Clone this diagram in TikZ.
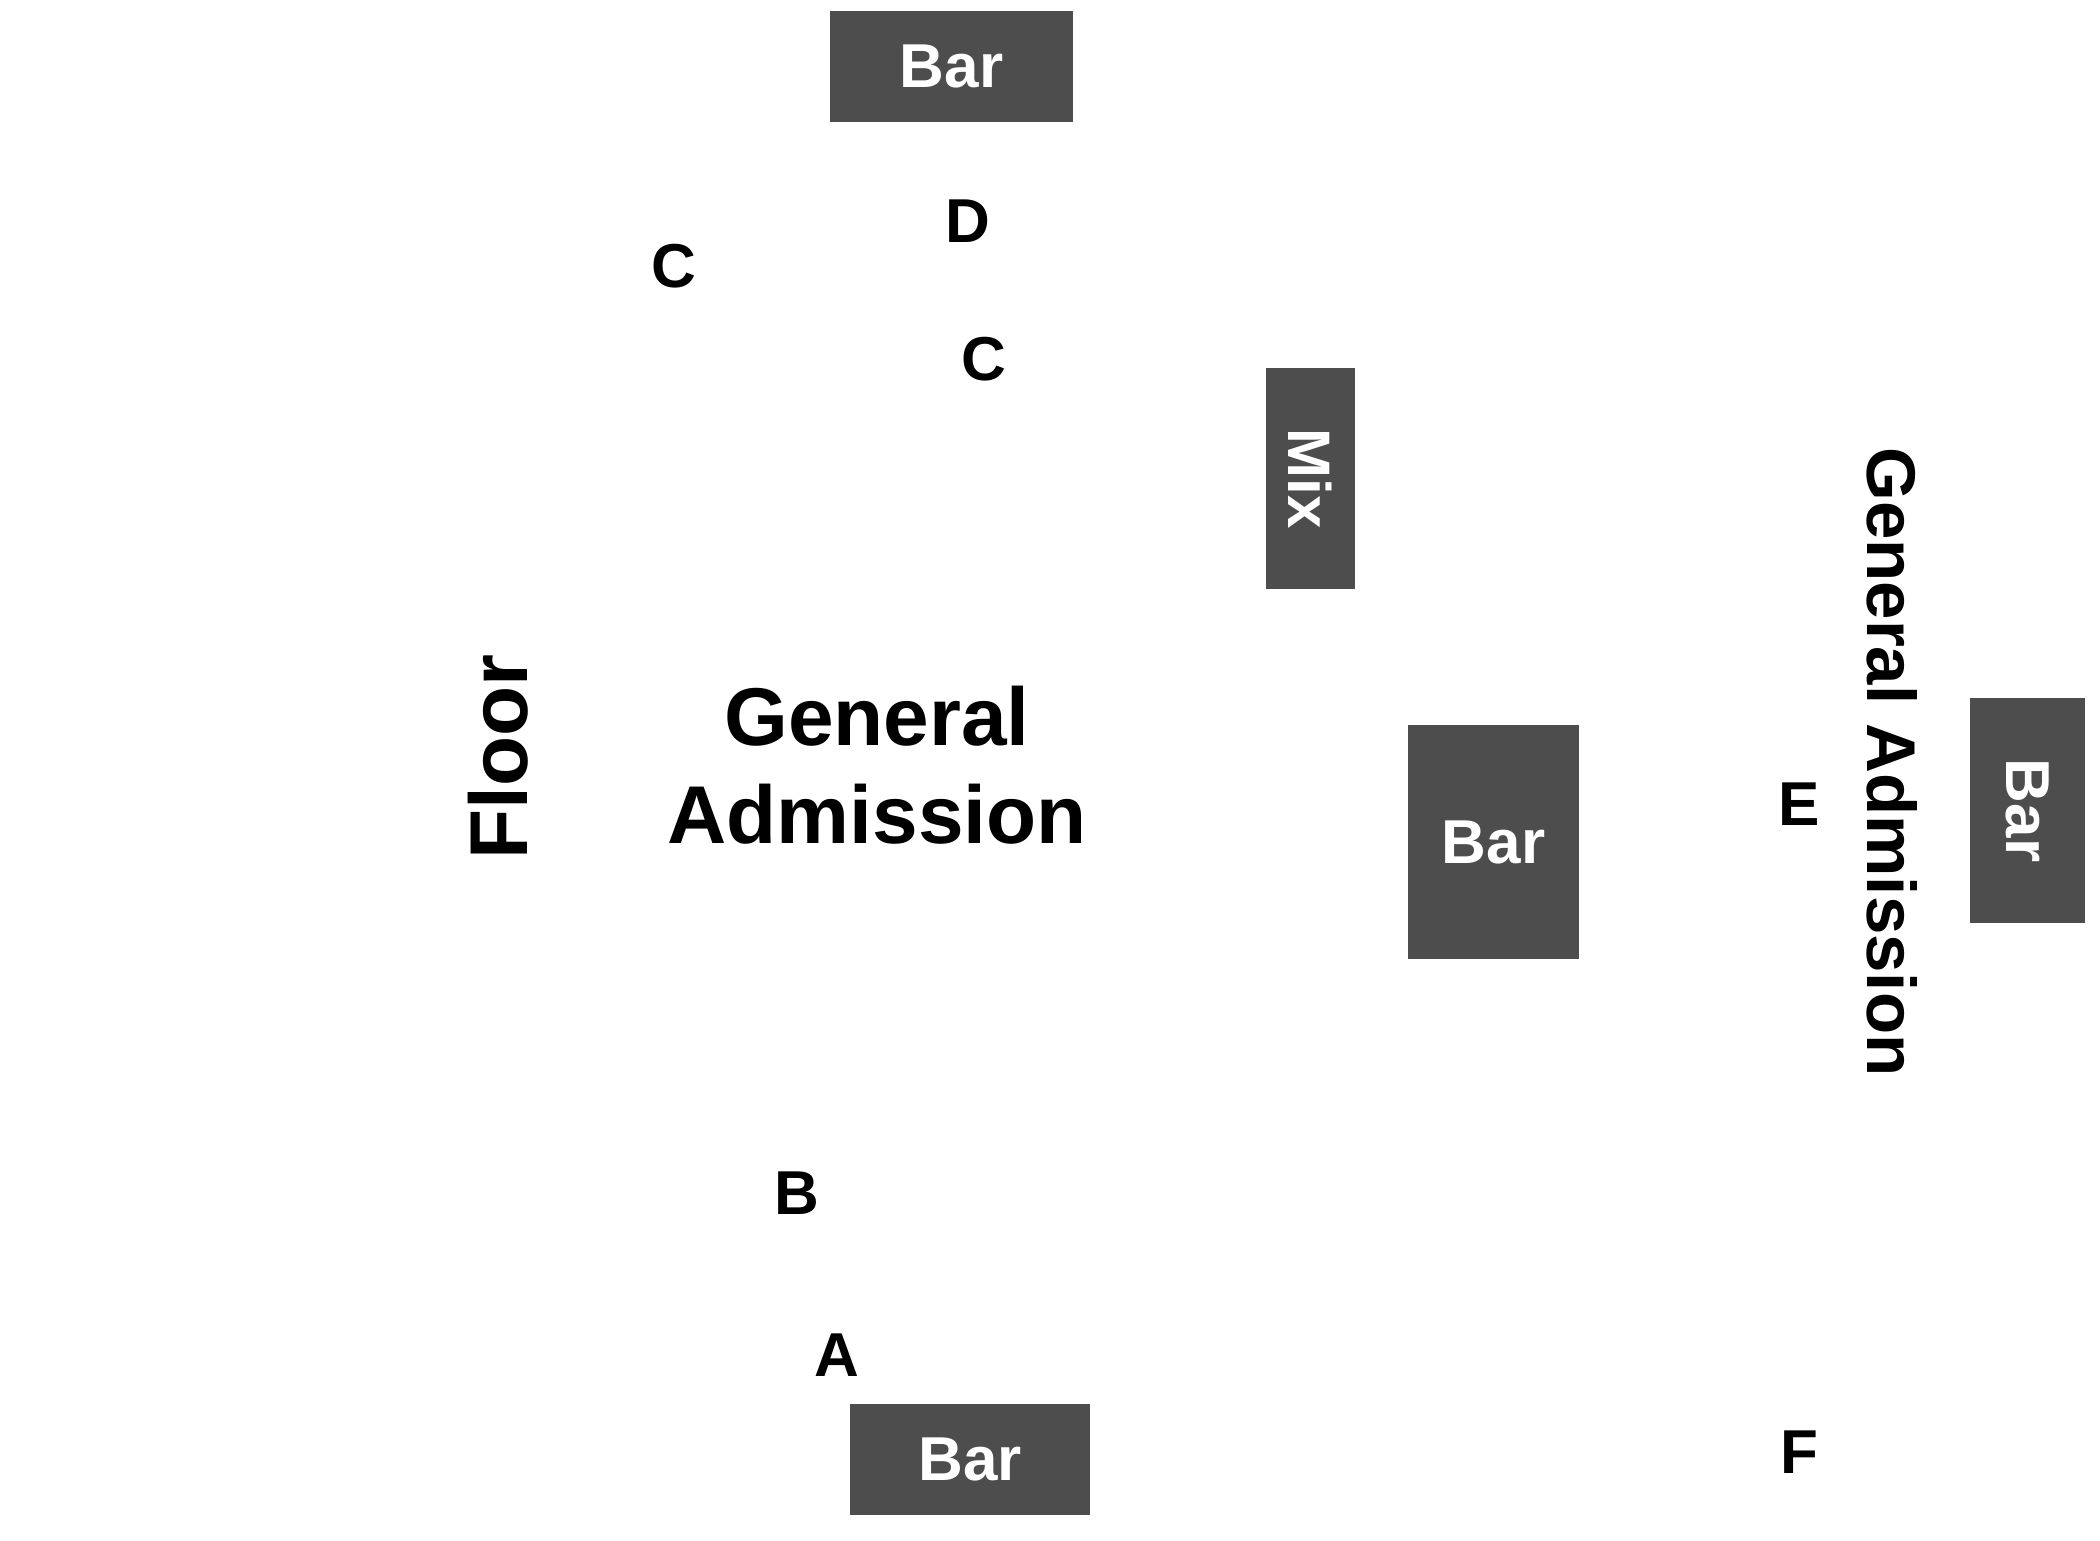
\documentclass[tikz,border=0pt]{standalone}
\usepackage{fontspec}
\setmainfont{Liberation Sans}
\definecolor{boxgray}{HTML}{4D4D4D}
\tikzset{
  boxnode/.style={fill=boxgray, draw=none, inner sep=0pt, text=white, font=\bfseries\fontsize{62}{74}\selectfont},
  letter/.style={inner sep=0pt, text=black, font=\bfseries\fontsize{62}{74}\selectfont},
  bigtext/.style={inner sep=0pt, text=black, font=\bfseries\fontsize{82}{98}\selectfont, align=center},
  sidetext/.style={inner sep=0pt, text=black, font=\bfseries\fontsize{69}{80}\selectfont}
}
\begin{document}
\begin{tikzpicture}[x=1pt,y=-1pt]
\useasboundingbox (0,0) rectangle (2100,1540);
\fill[white] (0,0) rectangle (2100,1540);
% bars and mix
\node[boxnode, minimum width=243pt, minimum height=111pt] (bartop) at (951.5,66.5) {Bar};
\node[boxnode, minimum width=240pt, minimum height=111pt] (barbottom) at (970,1459.5) {Bar};
\node[boxnode, minimum width=171pt, minimum height=234pt] (barmid) at (1493.5,842) {Bar};
\node[boxnode, minimum width=115pt, minimum height=225pt] (barright) at (2027.5,810.5) {};
\node[text=white, font=\bfseries\fontsize{62}{74}\selectfont, inner sep=0pt, rotate=-90] (barrighttext) at (barright.center) {Bar};
\node[boxnode, minimum width=89pt, minimum height=221pt] (mix) at (1310.5,478.5) {};
\node[text=white, font=\bfseries\fontsize{60}{72}\selectfont, inner sep=0pt, rotate=-90] (mixtext) at (mix.center) {Mix};
% letters
\node[letter] (D) at (968,221) {D};
\node[letter] (C1) at (674,266) {C};
\node[letter] (C2) at (984,359) {C};
\node[letter] (E) at (1799,804) {E};
\node[letter] (B) at (797,1193) {B};
\node[letter] (A) at (837,1355) {A};
\node[letter] (F) at (1799,1452) {F};
% big labels
\node[bigtext] (ga) at (877,765.5) {General\\Admission};
\node[bigtext, rotate=90] (floor) at (498,757) {Floor};
\node[sidetext, rotate=-90] (garight) at (1892,762) {General Admission};
\end{tikzpicture}
\end{document}
